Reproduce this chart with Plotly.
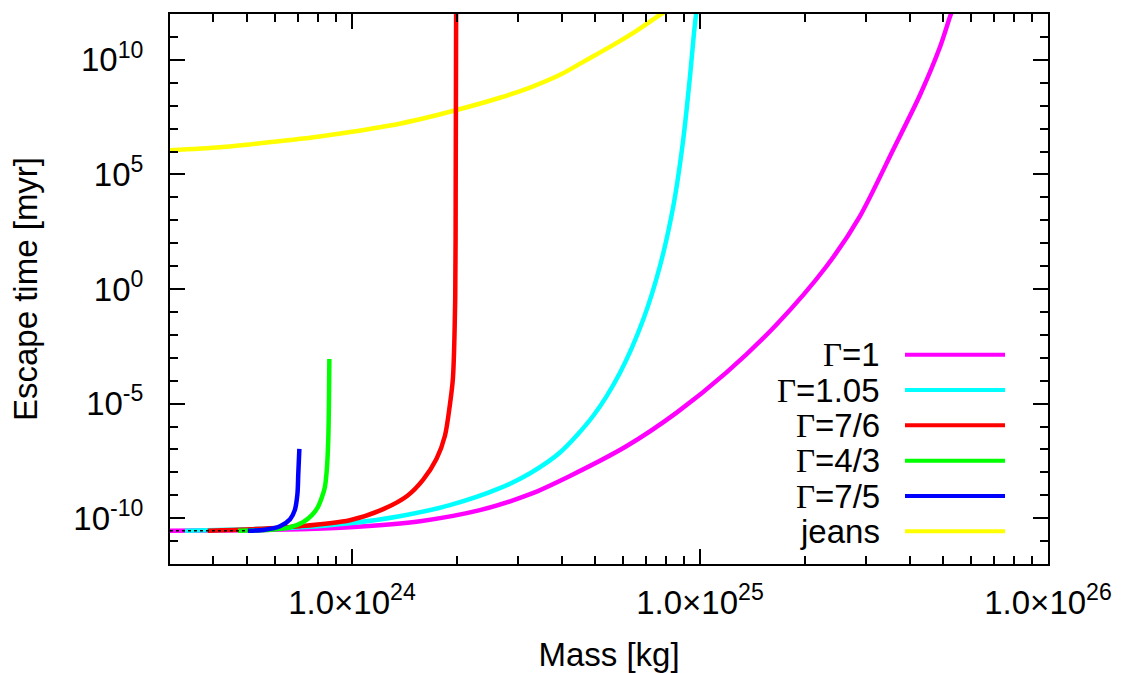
import plotly.graph_objects as go

# ---------------- data ----------------
m_g1 = [3.00e23, 5.09e23, 7.10e23, 9.86e23, 1.57e24, 2.33e24, 3.25e24, 4.23e24, 6.16e24,
        8.57e24, 1.19e25, 1.66e25, 2.31e25, 2.88e25, 3.59e25, 4.29e25, 4.90e25, 5.23e25, 5.35e25]
t_g1 = [2.83e-11, 2.98e-11, 3.30e-11, 4.06e-11, 7.40e-11, 2.23e-10, 1.11e-9, 6.97e-9, 1.41e-7,
        4.04e-6, 2.23e-4, 2.84e-2, 9.84, 1.49e3, 1.20e6, 2.99e8, 3.80e10, 7.71e11, 2.0e12]

m_g105 = [3.31e23, 5.09e23, 7.10e23, 9.86e23, 1.37e24, 1.91e24, 2.66e24, 3.25e24, 3.96e24,
          4.93e24, 5.89e24, 6.87e24, 7.67e24, 8.38e24, 8.95e24, 9.36e24, 9.61e24, 9.75e24, 9.80e24]
t_g105 = [2.83e-11, 3.30e-11, 4.03e-11, 6.05e-11, 1.22e-10, 3.68e-10, 2.03e-9, 9.14e-9, 7.29e-8,
          2.87e-6, 2.23e-4, 4.69e-2, 9.84, 4.06e3, 3.27e6, 1.87e9, 1.46e11, 1.08e12, 2.0e12]

m_g76 = [3.85e23, 5.09e23, 7.10e23, 9.86e23, 1.23e24, 1.44e24, 1.60e24, 1.75e24, 1.85e24,
         1.91e24, 1.95e24, 1.98e24, 1.986e24, 1.992e24]
t_g76 = [2.83e-11, 3.30e-11, 4.46e-11, 8.17e-11, 2.48e-10, 9.23e-10, 4.65e-9, 3.87e-8, 3.94e-7,
         8.17e-6, 1.25e-4, 0.403, 9.79e3, 1.4e12]

m_g43 = [4.70e23, 5.81e23, 6.64e23, 7.23e23, 7.67e23, 7.98e23, 8.20e23, 8.36e23, 8.47e23,
         8.55e23, 8.59e23, 8.61e23]
t_g43 = [2.83e-11, 3.13e-11, 4.03e-11, 6.68e-11, 1.36e-10, 3.03e-10, 8.34e-10, 2.29e-9, 1.41e-8,
         2.92e-7, 1.66e-5, 8.77e-4]

m_g75 = [5.02e23, 5.62e23, 6.21e23, 6.64e23, 6.85e23, 6.97e23, 7.01e23, 7.06e23]
t_g75 = [2.83e-11, 3.13e-11, 4.46e-11, 9.04e-11, 2.24e-10, 1.13e-9, 8.51e-9, 1.06e-7]

m_jeans = [3.00e23, 4.18e23, 5.62e23, 7.57e23, 1.00e24, 1.37e24, 1.96e24, 2.66e24, 3.29e24,
           3.96e24, 4.67e24, 5.51e24, 6.50e24, 7.67e24, 8.09e24]
t_jeans = [1.14e6, 1.54e6, 2.42e6, 3.99e6, 7.29e6, 1.63e7, 6.00e7, 2.21e8, 6.67e8,
           2.22e9, 9.04e9, 3.68e10, 1.66e11, 9.14e11, 1.5e12]

m_dots = [3.00e23, 5.05e23]
t_dots = [2.83e-11, 2.83e-11]

labels = ["1", "1.05", "7/6", "4/3", "7/5", "jeans"]
colors = ["#ff00ff", "#00ffff", "#ff0000", "#00ff00", "#0000ff", "#ffff00"]

x_tickvals = [1e24, 1e25, 1e26]
x_ticktext = ["1.0×10<sup>24</sup>", "1.0×10<sup>25</sup>", "1.0×10<sup>26</sup>"]
y_tickvals = [1e-10, 1e-5, 1.0, 1e5, 1e10]
y_ticktext = ["10<sup>-10</sup>", "10<sup>-5</sup>", "10<sup>0</sup>", "10<sup>5</sup>", "10<sup>10</sup>"]

FONT = "Liberation Sans, Arial, sans-serif"
FS = 33
LW = 4.5

fig = go.Figure()
series = [(m_g1, t_g1), (m_g105, t_g105), (m_jeans, t_jeans), (m_g76, t_g76),
          (m_g43, t_g43), (m_g75, t_g75)]
col_order = [colors[0], colors[1], colors[5], colors[2], colors[3], colors[4]]
for (mx, ty), c in zip(series, col_order):
    fig.add_trace(go.Scatter(x=mx, y=ty, mode="lines",
                             line=dict(color=c, width=LW, shape="spline", smoothing=0.8),
                             showlegend=False, hoverinfo="skip"))
fig.add_trace(go.Scatter(x=m_dots, y=t_dots, mode="lines",
                         line=dict(color="black", width=1.5, dash="dot"),
                         showlegend=False, hoverinfo="skip"))

x_minor = [float(k) * 10.0 ** e for e in (23, 24, 25) for k in range(2, 10)]
y_minor = [10.0 ** e for e in range(-12, 13) if e % 5 != 0]

axis_common = dict(showline=True, linecolor="black", linewidth=2, mirror="ticks",
                   ticks="inside", ticklen=15, tickwidth=2, tickcolor="black",
                   showgrid=False, zeroline=False, automargin=False,
                   tickfont=dict(family=FONT, size=FS, color="black"))

fig.update_xaxes(type="log", range=[23.4771, 26.0], tickmode="array",
                 tickvals=x_tickvals, ticktext=x_ticktext, ticklabelstandoff=8,
                 minor=dict(tickmode="array", tickvals=x_minor, ticks="inside", ticklen=8,
                            tickwidth=2, tickcolor="black", showgrid=False),
                 title=dict(text="Mass [kg]", font=dict(family=FONT, size=FS, color="black"),
                            standoff=24),
                 **axis_common)
fig.update_yaxes(type="log", range=[-12, 12], tickmode="array",
                 tickvals=y_tickvals, ticktext=y_ticktext, ticklabelstandoff=18,
                 minor=dict(tickmode="array", tickvals=y_minor, ticks="inside", ticklen=8,
                            tickwidth=2, tickcolor="black", showgrid=False),
                 title=dict(text="Escape time [myr]", font=dict(family=FONT, size=FS, color="black"),
                            standoff=26),
                 **axis_common)

# legend (gnuplot style: text on the left, sample line on the right)
row_y = [354.7, 390.0, 425.3, 460.7, 496.0, 531.3]
plot_l, plot_r, plot_t, plot_b = 170, 1048, 14, 564
pw, ph = plot_r - plot_l, plot_b - plot_t
for lab, c, yp in zip(labels, colors, row_y):
    yy = (plot_b - yp) / ph
    if lab == "jeans":
        txt = "jeans"
    else:
        txt = "<span style=\"font-family:'Liberation Serif', 'Times New Roman', serif\">Γ</span>=" + lab
    fig.add_annotation(xref="paper", yref="paper", x=(882 - plot_l) / pw, y=yy,
                       text=txt, showarrow=False, xanchor="right", yanchor="middle",
                       font=dict(family=FONT, size=FS, color="black"))
    fig.add_shape(type="line", xref="paper", yref="paper",
                  x0=(905 - plot_l) / pw, x1=(1005 - plot_l) / pw, y0=yy, y1=yy,
                  line=dict(color=c, width=4))

fig.update_layout(width=1125, height=673, plot_bgcolor="white", paper_bgcolor="white",
                  margin=dict(l=plot_l, r=1125 - plot_r, t=plot_t, b=673 - plot_b),
                  font=dict(family=FONT, size=FS, color="black"), showlegend=False)

fig.write_html("out.html")
